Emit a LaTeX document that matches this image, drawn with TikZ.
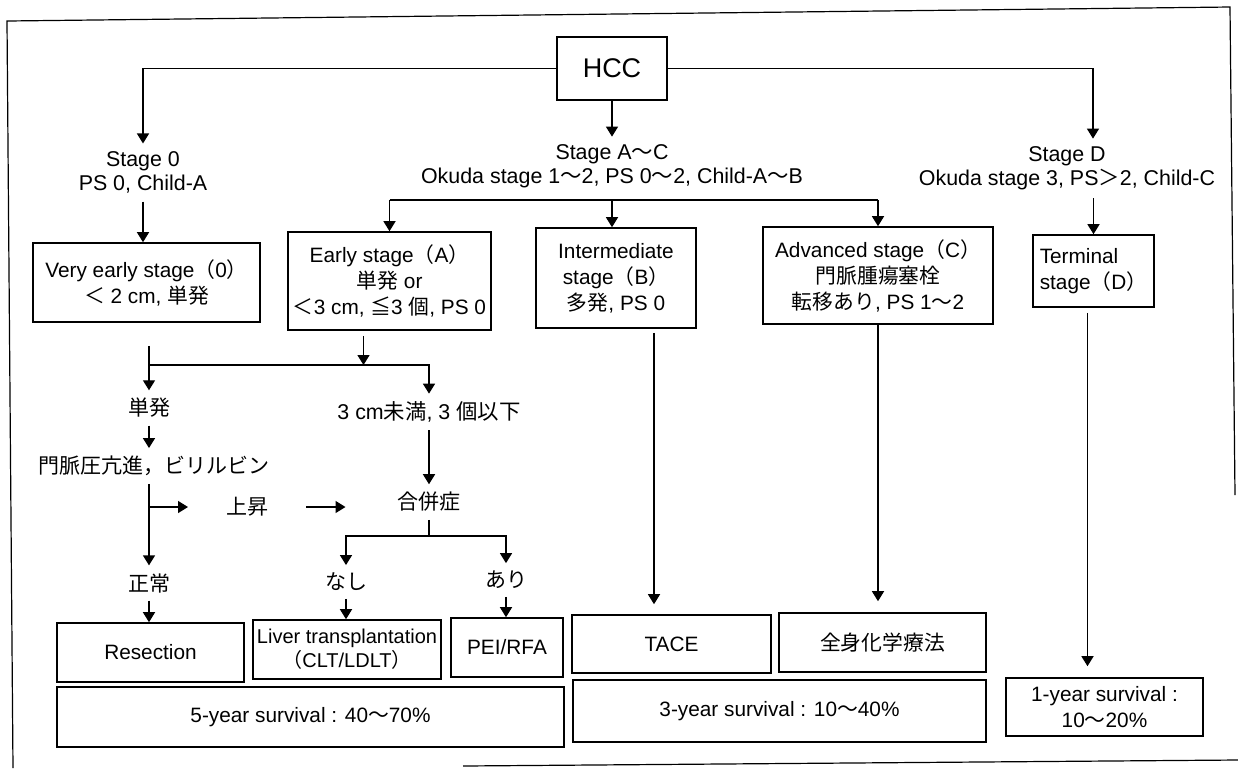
\documentclass[tikz,border=0pt]{standalone}
\usepackage{fontspec}
\setmainfont{Liberation Sans}
\newfontfamily\jp{Noto Sans CJK JP}
\usetikzlibrary{arrows.meta}
\newcommand\jt[1]{{\jp #1}}
\begin{document}
\begin{tikzpicture}[x=0.5pt,y=-0.5pt,
  line width=0.7pt,
  arr/.style={-{Triangle[length=5pt,width=6pt]}},
  box/.style={draw,line width=0.8pt,inner sep=1pt,align=center,font=\fontsize{10.4}{13}\selectfont},
  lbl/.style={inner sep=0pt,outer sep=4pt,align=center,font=\fontsize{10.7}{12.2}\selectfont},
  jlbl/.style={lbl,font=\fontsize{10.5}{12}\selectfont\jp},
  frame/.style={line width=0.6pt}
]
\useasboundingbox (0,0) rectangle (1238,768);
% frame
\draw[frame] (13,768) -- (7,21) -- (1230,7) -- (1235,495);
\draw[frame] (463,766) -- (1238,760);

% nodes
\node[box,minimum width=55pt,minimum height=31.5pt,font=\fontsize{13.5}{15}\selectfont] (hcc) at (612,68.5) {HCC};
\node[lbl] (s0) at (143,172.5) {Stage 0\\PS 0, Child-A};
\node[lbl] (sAC) at (612,166.5) {Stage A\jt{〜}C\\Okuda stage 1\jt{〜}2, PS 0\jt{〜}2, Child-A\jt{〜}B};
\node[lbl] (sD) at (1067,168.5) {Stage D\\Okuda stage 3, PS\jt{＞}2, Child-C};

\node[box,minimum width=113.5pt,minimum height=39.5pt] (vearly) at (146.5,282.5) {Very early stage\jt{（}0\jt{）}\\\jt{＜} 2 cm, \jt{単発}};
\node[box,minimum width=101.5pt,minimum height=49pt] (early) at (389.5,281) {Early stage\jt{（}A\jt{）}\\\jt{単発} or\\\jt{＜}3 cm, \jt{≦}3 \jt{個}, PS 0};
\node[box,minimum width=80pt,minimum height=50pt] (inter) at (616,278) {Intermediate\\stage\jt{（}B\jt{）}\\\jt{多発}, PS 0};
\node[box,minimum width=115pt,minimum height=48.5pt] (adv) at (878,275.5) {Advanced stage\jt{（}C\jt{）}\\\jt{門脈腫瘍塞栓}\\\jt{転移あり}, PS 1\jt{〜}2};
\node[box,minimum width=60.5pt,minimum height=36pt,align=left] (term) at (1093.5,271) {Terminal\\stage\jt{（}D\jt{）}};

\node[jlbl] (tan1) at (149,408) {単発};
\node[jlbl] (mon) at (154,466) {門脈圧亢進，ビリルビン};
\node[lbl] (sanc) at (429,412) {3 cm\jt{未満}, 3 \jt{個以下}};
\node[jlbl,inner xsep=15pt] (jou) at (247,507) {上昇};
\node[jlbl,inner xsep=22pt] (gap) at (429,502) {合併症};
\node[jlbl] (sei) at (149,583) {正常};
\node[jlbl] (nashi) at (346,582) {なし};
\node[jlbl] (ari) at (506,580) {あり};

\node[box,minimum width=93.5pt,minimum height=29.5pt] (resec) at (150.5,652.5) {Resection};
\node[box,minimum width=94pt,minimum height=29.5pt,inner xsep=0pt,font=\fontsize{10}{12}\selectfont] (liver) at (347,649.5) {Liver transplantation\\\jt{（}CLT/LDLT\jt{）}};
\node[box,minimum width=56pt,minimum height=29.5pt] (pei) at (507,647.5) {PEI/RFA};
\node[box,minimum width=253.5pt,minimum height=30pt] (y5) at (310.5,717) {5-year survival : 40\jt{〜}70\%};
\node[box,minimum width=99.5pt,minimum height=29pt] (tace) at (671.5,644) {TACE};
\node[box,minimum width=103.5pt,minimum height=29.5pt] (zen) at (882.5,642.5) {\jt{全身化学療法}};
\node[box,minimum width=206.5pt,minimum height=31pt] (y3) at (779.5,711) {3-year survival : 10\jt{〜}40\%};
\node[box,minimum width=98.5pt,minimum height=29pt] (y1) at (1104.5,707) {1-year survival :\\10\jt{〜}20\%};

% helper coordinates
\coordinate (acbar) at (612,200);
\coordinate (dcol) at (1093,0);
\coordinate (bar1) at (149,365);
\coordinate (bar2) at (429,536);

% connectors
\draw[arr] (hcc.west) -| (s0.north);
\draw[arr] (hcc.east) -| (sD.north -| dcol);
\draw[arr] (hcc.south) -- (hcc.south |- sAC.north);
\draw (acbar -| early.north) -- (acbar -| adv.north);
\draw[arr] (acbar -| early.north) -- (early.north);
\draw[arr] (acbar) -- (acbar |- inter.north);
\draw[arr] (acbar -| adv.north) -- (adv.north);
\draw[arr] (s0.south) -- (s0.south |- vearly.north);
\draw[arr] (sD.south -| term.north) -- (term.north);

\draw[arr,shorten <=11.5pt] (vearly.south -| bar1) -- (tan1.north);
\draw[arr] (bar1) -| (sanc.north);
\draw[arr,shorten <=2.5pt] ([xshift=-13pt]early.south) -- ([xshift=-13pt]early.south |- bar1);
\draw[arr] (tan1.south) -- (tan1.south |- mon.north);
\draw[arr] (mon.south -| sei.north) -- (sei.north);
\draw[arr] (sei.north |- jou) -- (jou.west);
\draw[arr] (jou.east) -- (jou.east -| gap.west);
\draw[arr] (sanc.south) -- (sanc.south |- gap.north);
\draw (gap.south) -- (bar2);
\draw[arr] (bar2) -| (nashi.north);
\draw[arr] (bar2) -| (ari.north);
\draw[arr] (sei.south) -- (sei.south |- resec.north);
\draw[arr] (nashi.south) -- (nashi.south |- liver.north);
\draw[arr] (ari.south) -- (ari.south |- pei.north);

\draw[arr,shorten <=2pt,shorten >=5pt] ([xshift=19pt]inter.south) -- ([xshift=19pt]inter.south |- tace.north);
\draw[arr,shorten >=5.5pt] (adv.south) -- (adv.south |- zen.north);
\draw[arr,shorten <=2.5pt,shorten >=5.5pt] ([xshift=-3pt]term.south) -- ([xshift=-3pt]term.south |- y1.north);
\end{tikzpicture}
\end{document}
